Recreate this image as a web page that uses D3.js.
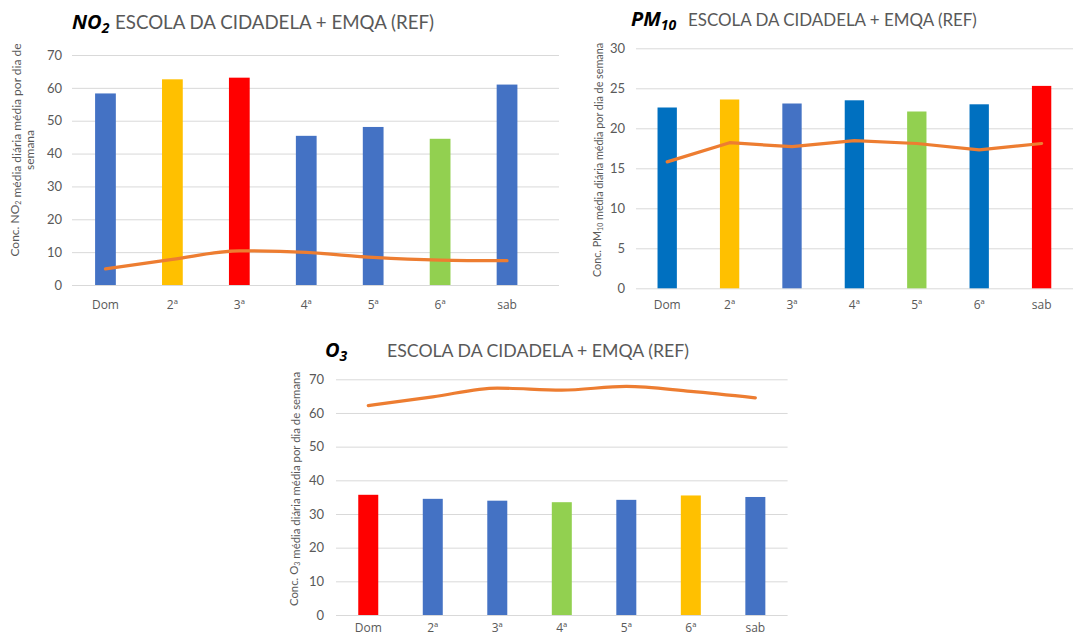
<!DOCTYPE html>
<html><head><meta charset="utf-8">
<script src="https://cdn.jsdelivr.net/npm/d3@7"></script>
<style>
html,body{margin:0;padding:0;background:#fff;}
svg{display:block;font-family:Lato,"Open Sans",sans-serif;}
</style></head>
<body>
<svg id="chart" width="1073" height="636"></svg>
<script>
// ---------- data ----------
const days = ["Dom", "2ª", "3ª", "4ª", "5ª", "6ª", "sab"];

const no2Bars = [58.3, 62.6, 63.1, 45.4, 48.1, 44.5, 61.0];
const no2Line = [4.9, 7.8, 10.4, 9.9, 8.4, 7.6, 7.4];
const no2Colors = ["#4472C4", "#FFC000", "#FF0000", "#4472C4", "#4472C4", "#92D050", "#4472C4"];
const no2Ticks = [0, 10, 20, 30, 40, 50, 60, 70];

const pm10Bars = [22.6, 23.6, 23.1, 23.5, 22.1, 23.0, 25.3];
const pm10Line = [15.8, 18.2, 17.7, 18.45, 18.1, 17.3, 18.1];
const pm10Colors = ["#0070C0", "#FFC000", "#4472C4", "#0070C0", "#92D050", "#0070C0", "#FF0000"];
const pm10Ticks = [0, 5, 10, 15, 20, 25, 30];

const o3Bars = [35.7, 34.5, 33.95, 33.5, 34.2, 35.5, 35.05];
const o3Line = [62.2, 64.8, 67.4, 66.8, 67.9, 66.4, 64.5];
const o3Colors = ["#FF0000", "#4472C4", "#4472C4", "#92D050", "#4472C4", "#FFC000", "#4472C4"];
const o3Ticks = [0, 10, 20, 30, 40, 50, 60, 70];

const titleRest = "ESCOLA DA CIDADELA + EMQA (REF)";

// ---------- drawing ----------
const svg = d3.select("#chart");
const GRID = "#D9D9D9", TXT = "#595959", LINE = "#ED7D31";

function fitFont(sel, target, base) {
  sel.style("font-size", base + "px");
  const w = sel.node().getComputedTextLength();
  sel.style("font-size", (base * target / w).toFixed(2) + "px");
}

function drawChart(cfg) {
  const g = svg.append("g");
  const x = d3.scaleBand().domain(days)
    .range([cfg.left, cfg.bandRight]).paddingInner(0.69).paddingOuter(0.345);
  const y = d3.scaleLinear().domain([0, d3.max(cfg.ticks)]).range([cfg.bottom, cfg.top]);

  // gridlines
  g.append("g").selectAll("line").data(cfg.ticks).join("line")
    .attr("x1", cfg.left).attr("x2", cfg.gridRight)
    .attr("y1", d => y(d) + 0.5).attr("y2", d => y(d) + 0.5)
    .attr("stroke", GRID).attr("stroke-width", 1);

  // y axis labels
  const ya = g.append("g").attr("transform", `translate(${cfg.tickRight},0)`)
    .call(d3.axisLeft(y).tickValues(cfg.ticks).tickSize(0).tickPadding(0));
  ya.select(".domain").remove();
  ya.selectAll("text").attr("fill", TXT).style("font-size", "13px")
    .style("font-family", "Lato, 'Open Sans', sans-serif");

  // x axis labels
  const xa = g.append("g").attr("transform", `translate(0,${cfg.xLabelY})`)
    .call(d3.axisBottom(x).tickSize(0).tickPadding(0));
  xa.select(".domain").remove();
  xa.selectAll("text").attr("fill", TXT).attr("dy", "0.35em").attr("y", 0)
    .style("font-size", "12px").style("font-family", "'Open Sans', Lato, sans-serif");

  // bars
  g.append("g").selectAll("rect").data(cfg.bars).join("rect")
    .attr("x", (d, i) => x(days[i]))
    .attr("width", x.bandwidth())
    .attr("y", d => y(d))
    .attr("height", d => y(0) - y(d))
    .attr("fill", (d, i) => cfg.colors[i]);

  // line
  const line = d3.line()
    .x((d, i) => x(days[i]) + x.bandwidth() / 2)
    .y(d => y(d))
    .curve(cfg.curve);
  g.append("path").datum(cfg.line)
    .attr("d", line).attr("fill", "none")
    .attr("stroke", LINE).attr("stroke-width", 3.2).attr("stroke-linecap", "round")
    .attr("stroke-linejoin", "round");

  // title
  const t1 = g.append("text").attr("x", cfg.tX).attr("y", cfg.tY)
    .attr("fill", "#000").style("font-weight", "bold").style("font-style", "italic")
    .style("font-size", "20px").style("font-family", "'Open Sans', Lato, sans-serif");
  t1.append("tspan").text(cfg.species);
  t1.append("tspan").attr("dy", 4).style("font-size", "14px").text(cfg.sub);

  const t2 = g.append("text").attr("x", cfg.restX).attr("y", cfg.tY)
    .attr("fill", TXT).text(titleRest);
  fitFont(t2, cfg.restW, 20);

  // y-axis title
  const lab = g.append("text")
    .attr("transform", `translate(${cfg.labX},${cfg.labY}) rotate(-90)`)
    .attr("text-anchor", "middle").attr("fill", TXT)
    .style("font-size", "10px");
  cfg.labLines.forEach((ln, k) => {
    const ts = lab.append("tspan").attr("x", 0).attr("y", k * 15).attr("dy", "0.35em");
    ln.forEach(part => {
      if (part.sub) {
        ts.append("tspan").attr("dy", "0.25em").style("font-size", "7px").text(part.sub);
        ts.append("tspan").attr("dy", "-0.25em").text("");
      } else {
        ts.append("tspan").text(part.t);
      }
    });
  });
  const lw = lab.node().getBBox().width;
  lab.style("font-size", (10 * cfg.labW / lw).toFixed(2) + "px");
}

drawChart({
  bars: no2Bars, line: no2Line, colors: no2Colors, ticks: no2Ticks,
  left: 72, bandRight: 540.5, gridRight: 559, top: 55, bottom: 285,
  tickRight: 62, xLabelY: 305, curve: d3.curveMonotoneX,
  species: "NO", sub: "2", tX: 72, tY: 29, restX: 115, restW: 319,
  labX: 15, labY: 150, labW: 214,
  labLines: [[{t: "Conc. NO"}, {sub: "2"}, {t: " média diária média por dia de"}], [{t: "semana"}]]
});

drawChart({
  bars: pm10Bars, line: pm10Line, colors: pm10Colors, ticks: pm10Ticks,
  left: 636, bandRight: 1072.8, gridRight: 1073, top: 48.3, bottom: 288.3,
  tickRight: 625, xLabelY: 305, curve: d3.curveLinear,
  species: "PM", sub: "10", tX: 631, tY: 26, restX: 688, restW: 289,
  labX: 597, labY: 160, labW: 235,
  labLines: [[{t: "Conc. PM"}, {sub: "10"}, {t: " média diária média por dia de semana"}]]
});

drawChart({
  bars: o3Bars, line: o3Line, colors: o3Colors, ticks: o3Ticks,
  left: 336, bandRight: 787.6, gridRight: 787.6, top: 379.3, bottom: 615,
  tickRight: 324, xLabelY: 627.5, curve: d3.curveMonotoneX,
  species: "O", sub: "3", tX: 325, tY: 357, restX: 387, restW: 302,
  labX: 294, labY: 489, labW: 235,
  labLines: [[{t: "Conc. O"}, {sub: "3"}, {t: " média diária média por dia de semana"}]]
});
</script>
</body></html>
